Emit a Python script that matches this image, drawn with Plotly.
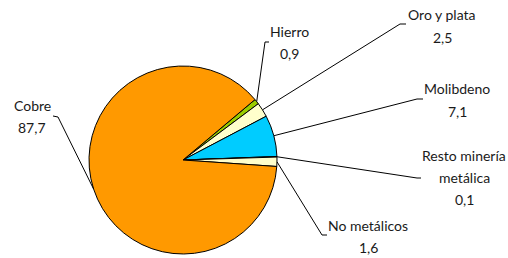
import math
import plotly.graph_objects as go

labels = ["Hierro", "Oro y plata", "Molibdeno", "Resto minería metálica", "No metálicos", "Cobre"]
label_lines = [["Hierro", "0,9"], ["Oro y plata", "2,5"], ["Molibdeno", "7,1"],
               ["Resto minería", "metálica", "0,1"], ["No metálicos", "1,6"], ["Cobre", "87,7"]]
values = [0.9, 2.5, 7.1, 0.1, 1.6, 87.7]
colors = ["#99cc00", "#ffffcc", "#00ccff", "#ffffcc", "#ffffcc", "#ff9900"]

W, H = 508, 258
CX, CY, R = 183, 160, 94
ROT = 50  # degrees clockwise from 12 o'clock
LINE_H = 22

# label layout (pixel positions): text block centre, elbow point, elbow end
label_pos = [(289, 42.5), (442, 26), (457, 100), (464, 177.5), (368, 236), (32, 116)]
elbow = [((265, 42), (269, 42)), ((400, 24), (406, 24)), ((417, 99), (423, 99)),
         ((417, 178), (421, 178)), ((322, 235), (327, 235)), ((58, 117), (53, 116))]

FONT = "Lato, DejaVu Sans Condensed, sans-serif"

fig = go.Figure(go.Pie(
    labels=labels, values=values, sort=False, direction="clockwise", rotation=ROT,
    marker=dict(colors=colors, line=dict(color="#000000", width=1)),
    textinfo="none", hoverinfo="label+value", showlegend=False,
    domain=dict(x=[(CX - R) / W, (CX + R) / W], y=[(H - CY - R) / H, (H - CY + R) / H]),
))

def px(x, y):
    return x / W, 1 - y / H

total = sum(values)
cum = 0.0
shapes = []
annotations = []
for i, v in enumerate(values):
    mid = ROT + (cum + v / 2) / total * 360
    cum += v
    a = math.radians(mid)
    ex, ey = CX + R * math.sin(a), CY - R * math.cos(a)
    (bx, by), (tx, ty) = elbow[i]
    path_pts = [px(ex, ey), px(bx, by), px(tx, ty)]
    path = "M {} {} L {} {} L {} {}".format(*[c for p in path_pts for c in p])
    shapes.append(dict(type="path", xref="paper", yref="paper", path=path,
                       line=dict(color="#000000", width=1)))
    lx, ly = label_pos[i]
    n = len(label_lines[i])
    for j, line in enumerate(label_lines[i]):
        yy = ly + (j - (n - 1) / 2) * LINE_H
        annotations.append(dict(x=lx / W, y=1 - yy / H, xref="paper", yref="paper",
                                text=line, showarrow=False, xanchor="center",
                                yanchor="middle", align="center",
                                font=dict(family=FONT, size=14, color="#1a1a1a")))

fig.update_layout(width=W, height=H, margin=dict(l=0, r=0, t=0, b=0),
                  paper_bgcolor="white", plot_bgcolor="white",
                  shapes=shapes, annotations=annotations)
fig.write_html("out.html", config={"displayModeBar": False},
               post_script="document.body.style.margin='0';")
